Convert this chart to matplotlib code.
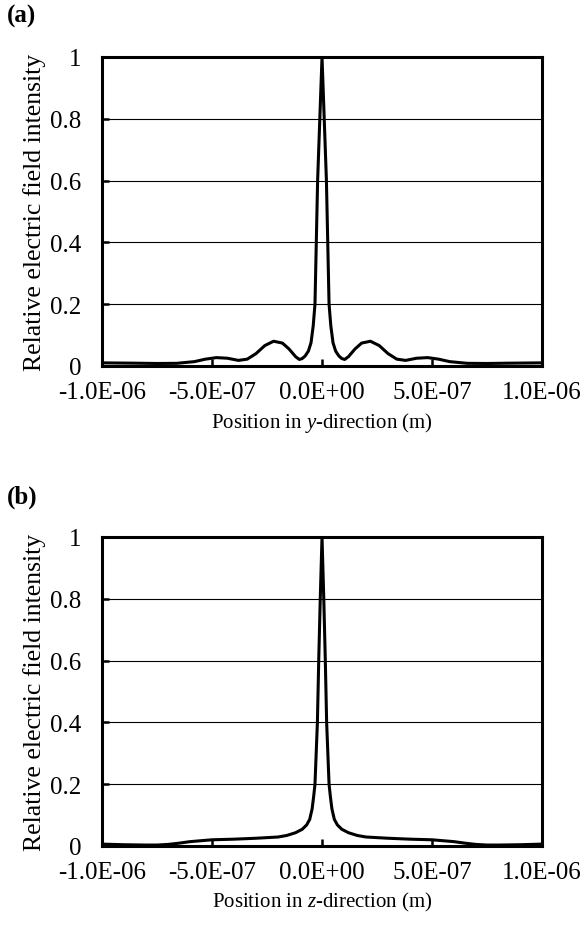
import numpy as np
import matplotlib.pyplot as plt

plt.rcParams["font.family"] = ["Liberation Serif", "DejaVu Serif"]
plt.rcParams["mathtext.fontset"] = "custom"
plt.rcParams["mathtext.it"] = "Liberation Serif:italic"
plt.rcParams["mathtext.rm"] = "Liberation Serif"

# ----------------- data -----------------
# positions in units of 1e-7 m
pos_y = [-10, -8.5, -7.5, -6.6, -5.8, -5.3, -4.8, -4.3, -3.8, -3.4, -3.0,
         -2.6, -2.2, -1.8, -1.5, -1.2, -1.03, -0.9, -0.77, -0.62, -0.5, -0.4,
         -0.32, -0.26, -0.2, -0.1, 0,
         0.1, 0.2, 0.26, 0.32, 0.4, 0.5, 0.62, 0.77, 0.9, 1.03, 1.2, 1.5, 1.8,
         2.2, 2.6, 3.0, 3.4, 3.8, 4.3, 4.8, 5.3, 5.8, 6.6, 7.5, 8.5, 10]
int_y = [0.010, 0.009, 0.008, 0.0085, 0.014, 0.022, 0.027, 0.025, 0.018,
         0.022, 0.040, 0.066, 0.080, 0.074, 0.055, 0.030, 0.021, 0.024, 0.032,
         0.048, 0.075, 0.13, 0.2, 0.4, 0.6, 0.8, 1.0,
         0.8, 0.6, 0.4, 0.2, 0.13, 0.075, 0.048, 0.032, 0.024, 0.021, 0.030,
         0.055, 0.074, 0.080, 0.066, 0.040, 0.022, 0.018, 0.025, 0.027, 0.022,
         0.014, 0.0085, 0.008, 0.009, 0.010]

pos_z = [-10, -9, -8, -7.5, -7, -6.5, -6, -5, -4, -3, -2, -1.6, -1.2, -0.9,
         -0.7, -0.56, -0.45, -0.38, -0.32, -0.21, -0.15, -0.08, 0,
         0.08, 0.15, 0.21, 0.32, 0.38, 0.45, 0.56, 0.7, 0.9, 1.2, 1.6, 2, 3,
         4, 5, 6, 6.5, 7, 7.5, 8, 9, 10]
int_z = [0.006, 0.004, 0.003, 0.003, 0.005, 0.009, 0.014, 0.020, 0.022, 0.025,
         0.029, 0.034, 0.043, 0.054, 0.068, 0.086, 0.12, 0.16, 0.2, 0.4, 0.6,
         0.8, 1.0,
         0.8, 0.6, 0.4, 0.2, 0.16, 0.12, 0.086, 0.068, 0.054, 0.043, 0.034,
         0.029, 0.025, 0.022, 0.020, 0.014, 0.009, 0.005, 0.003, 0.003, 0.004,
         0.006]

xticks = [-1.0e-6, -5.0e-7, 0.0, 5.0e-7, 1.0e-6]
xtick_labels = ["-1.0E-06", "-5.0E-07", "0.0E+00", "5.0E-07", "1.0E-06"]
yticks = [0, 0.2, 0.4, 0.6, 0.8, 1]
ytick_labels = ["0", "0.2", "0.4", "0.6", "0.8", "1"]

panels = [
    ("(a)", pos_y, int_y, "y", [0.1747, 0.6050, 0.7534, 0.3326], 0.982),
    ("(b)", pos_z, int_z, "z", [0.1747, 0.0883, 0.7534, 0.3326], 0.465),
]

fig = plt.figure(figsize=(5.84, 9.29), dpi=100)
fs_tick = 18
fs_ylab = 18.5
fs_xlab = 15

for tag, pos, inten, axis_name, rect, tag_y in panels:
    ax = fig.add_axes(rect)
    x = np.array(pos) * 1e-7
    ax.plot(x, inten, color="black", lw=2.2, solid_joinstyle="round", zorder=3)

    ax.set_xlim(-1e-6, 1e-6)
    ax.set_ylim(0, 1)
    ax.set_xticks(xticks)
    ax.set_xticklabels(xtick_labels)
    ax.set_yticks(yticks)
    ax.set_yticklabels(ytick_labels)
    ax.grid(axis="y", color="black", lw=0.8)
    ax.set_axisbelow(True)
    ax.tick_params(direction="in", length=5, width=1.8, labelsize=fs_tick,
                   top=False, right=False)
    ax.tick_params(axis="x", pad=11)
    ax.tick_params(axis="y", pad=15)
    for sp in ax.spines.values():
        sp.set_linewidth(2.2)

    ax.set_ylabel("Relative electric field intensity", fontsize=fs_ylab, labelpad=3)
    ax.set_xlabel("Position in $\\mathit{%s}$-direction (m)" % axis_name,
                  fontsize=fs_xlab, labelpad=5)

    # panel tag in the top-left corner
    fig.text(0.012, tag_y, tag, fontsize=18, fontweight="bold",
             ha="left", va="center")

fig.savefig("out.png", dpi=100)
